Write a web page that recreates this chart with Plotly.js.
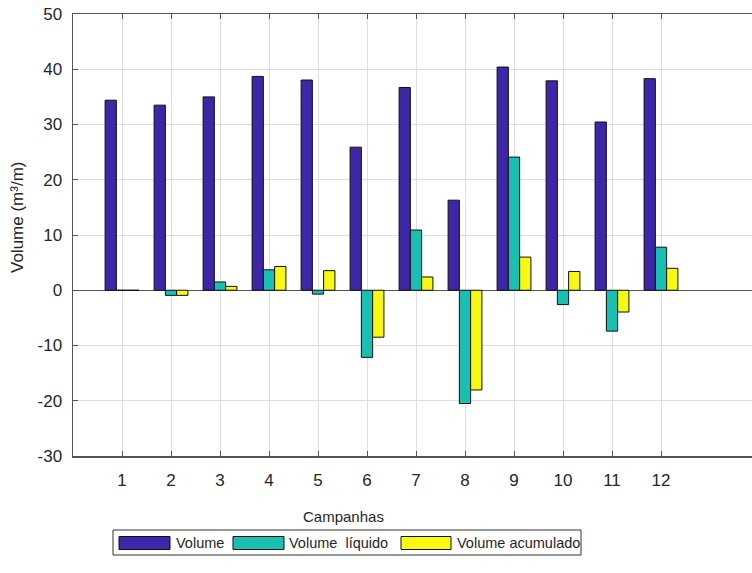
<!DOCTYPE html>
<html>
<head>
<meta charset="utf-8">
<script src="https://cdn.plot.ly/plotly-3.0.1.min.js"></script>
<style>
  html, body { margin: 0; padding: 0; background: #fff; }
  #chart { width: 752px; height: 573px; }
</style>
</head>
<body>
<div id="chart"></div>
<script>
// Campaign numbers on the x axis
const campanhas = [1, 2, 3, 4, 5, 6, 7, 8, 9, 10, 11, 12];

// Volumes per campaign (m³/m)
const volume     = [34.4, 33.5, 35.0, 38.7, 38.05, 25.9, 36.7, 16.3, 40.4, 37.9, 30.45, 38.3];
const volLiquido = [0, -0.93, 1.5, 3.7, -0.7, -12.15, 10.9, -20.5, 24.1, -2.6, -7.4, 7.8];
const volAcum    = [0, -0.93, 0.7, 4.3, 3.55, -8.5, 2.4, -18.05, 6.0, 3.4, -3.94, 3.97];

const seriesNames  = ['Volume', 'Volume  líquido', 'Volume acumulado'];
const seriesColors = ['#3d26a8', '#19bfb2', '#f8f812'];
const yTicks = [-30, -20, -10, 0, 10, 20, 30, 40, 50];
const yTickText = ['-30', '-20', '-10', '0', '10', '20', '30', '40', '50'];

const W = 752, H = 573;
const M = { l: 73, r: 0, t: 14, b: 117 };
const plotW = W - M.l - M.r, plotH = H - M.t - M.b;
const unitPx = 49;                 // pixels per campaign step
const xMax = plotW / unitPx;

// pixel -> paper helpers for the legend box and axis titles
const px = x => (x - M.l) / plotW;
const py = y => (H - M.b - y) / plotH;

const textColor = '#262626';
const font = 'Liberation Sans, Arial, Helvetica, sans-serif';

const traces = [volume, volLiquido, volAcum].map((vals, i) => ({
  type: 'bar',
  x: campanhas,
  y: vals,
  name: seriesNames[i],
  marker: { color: seriesColors[i], line: { color: '#111', width: 1 } },
  showlegend: false,
  hoverinfo: 'x+y+name'
}));

// Legend drawn as a framed row of wide swatches below the axes
const legendItems = [
  { x0: 119, x1: 170, tx: 174 },
  { x0: 233, x1: 284, tx: 287 },
  { x0: 401, x1: 451, tx: 455 }
];
const shapes = [
  { type: 'rect', xref: 'paper', yref: 'paper',
    x0: px(113), x1: px(581), y0: py(530), y1: py(555),
    fillcolor: '#fff', line: { color: '#333', width: 1 } }
];
const annotations = [];
legendItems.forEach((it, i) => {
  shapes.push({ type: 'rect', xref: 'paper', yref: 'paper',
    x0: px(it.x0), x1: px(it.x1), y0: py(536.5), y1: py(549.5),
    fillcolor: seriesColors[i], line: { color: '#111', width: 1 } });
  annotations.push({ xref: 'paper', yref: 'paper', x: px(it.tx), y: py(543),
    xanchor: 'left', yanchor: 'middle', showarrow: false,
    text: seriesNames[i].replace(/ /g, '&nbsp;'),
    font: { family: font, size: 14.5, color: textColor } });
});

// Axis titles
annotations.push({ xref: 'paper', yref: 'paper', x: px(343), y: py(516),
  xanchor: 'center', yanchor: 'middle', showarrow: false, text: 'Campanhas',
  font: { family: font, size: 15, color: textColor } });
annotations.push({ xref: 'paper', yref: 'paper', x: px(17), y: py(218),
  xanchor: 'center', yanchor: 'middle', showarrow: false, textangle: -90,
  text: 'Volume (m³/m)',
  font: { family: font, size: 17, color: textColor } });

const layout = {
  width: W, height: H,
  margin: M,
  paper_bgcolor: '#fff', plot_bgcolor: '#fff',
  barmode: 'group', bargap: 0.31, bargroupgap: 0,
  font: { family: font, color: textColor },
  xaxis: {
    range: [0, xMax], tickmode: 'array', tickvals: campanhas, ticktext: campanhas.map(String),
    ticks: 'inside', ticklen: 5, tickcolor: '#555', tickwidth: 1,
    showline: true, linecolor: '#555', linewidth: 1.5, mirror: 'ticks',
    showgrid: true, gridcolor: '#dedede', gridwidth: 1,
    zeroline: false, ticklabelstandoff: 8,
    tickfont: { family: font, size: 17, color: textColor }
  },
  yaxis: {
    range: [-30, 50], tickmode: 'array', tickvals: yTicks, ticktext: yTickText,
    ticks: 'inside', ticklen: 5, tickcolor: '#555', tickwidth: 1,
    showline: true, linecolor: '#555', linewidth: 1.5, mirror: false,
    showgrid: true, gridcolor: '#dedede', gridwidth: 1,
    zeroline: true, zerolinecolor: '#555', zerolinewidth: 1,
    ticklabelstandoff: 6,
    tickfont: { family: font, size: 17, color: textColor }
  },
  shapes: shapes,
  annotations: annotations
};

Plotly.newPlot('chart', traces, layout, { displayModeBar: false, staticPlot: true });
</script>
</body>
</html>
